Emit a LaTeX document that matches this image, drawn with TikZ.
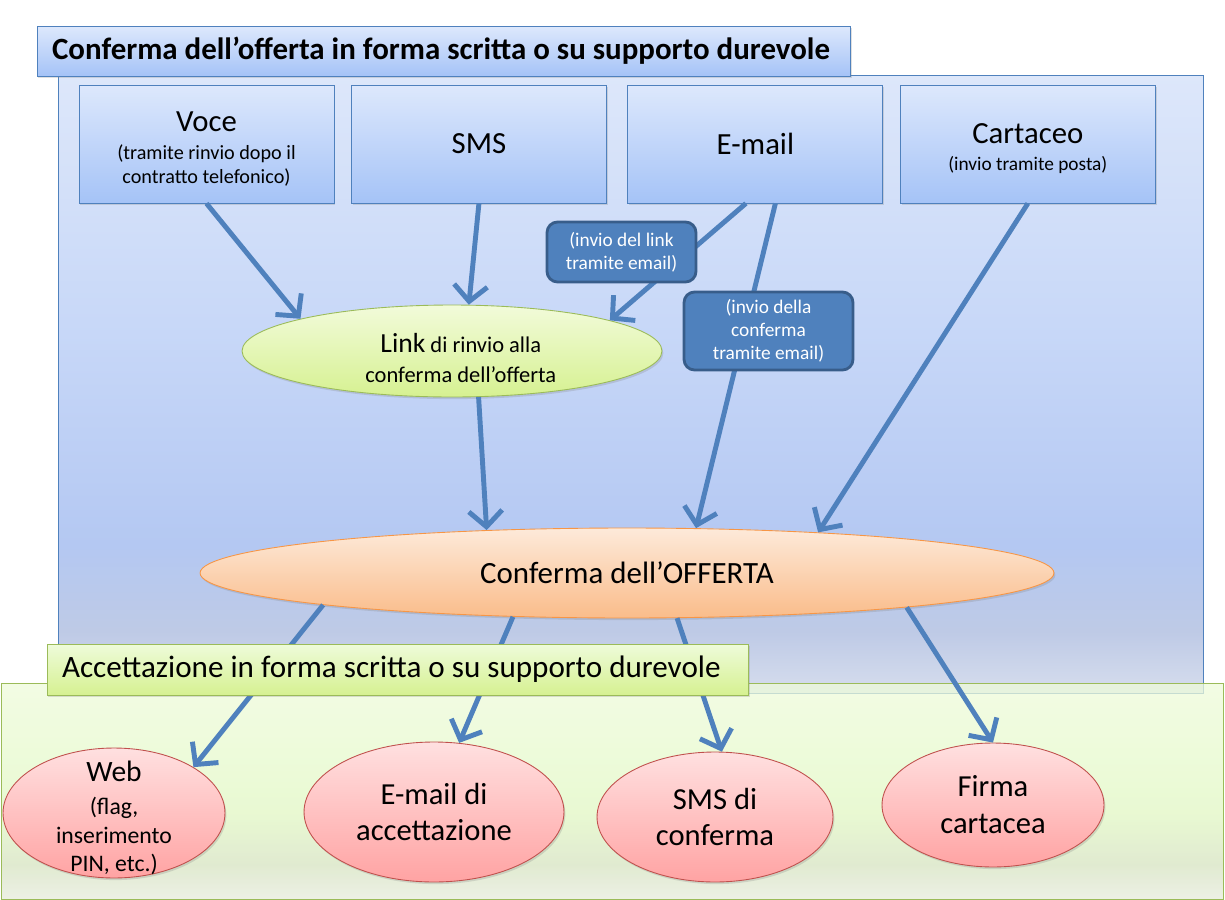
\documentclass[tikz,border=0pt]{standalone}
\usepackage{fontspec}
\setmainfont{Carlito}
\usetikzlibrary{shapes.geometric, arrows.meta, positioning, shadows}

\definecolor{accent}{RGB}{79,129,189}
\definecolor{accentdark}{RGB}{56,93,138}
\definecolor{boxtop}{RGB}{221,232,252}
\definecolor{boxbot}{RGB}{165,195,247}
\definecolor{offtop}{RGB}{221,231,250}
\definecolor{offmid}{RGB}{200,216,248}
\definecolor{offlow}{RGB}{180,200,242}
\definecolor{offgrey}{RGB}{190,202,230}
\definecolor{offbot}{RGB}{214,221,237}
\definecolor{acctop}{RGB}{238,251,218}
\definecolor{accmid}{RGB}{225,247,195}
\definecolor{acclow}{RGB}{214,227,192}
\definecolor{accbot}{RGB}{230,235,220}
\definecolor{greenline}{RGB}{155,187,89}
\definecolor{linktop}{RGB}{242,251,218}
\definecolor{linkbot}{RGB}{214,241,145}
\definecolor{conftop}{RGB}{253,234,218}
\definecolor{confbot}{RGB}{250,188,138}
\definecolor{confline}{RGB}{247,150,70}
\definecolor{pinktop}{RGB}{255,224,224}
\definecolor{pinkbot}{RGB}{255,163,163}
\definecolor{pinkline}{RGB}{192,80,77}

\pgfdeclareverticalshading{offershade}{100bp}{color(0bp)=(offbot); color(25bp)=(offbot); color(30bp)=(offgrey); color(37bp)=(offlow); color(55bp)=(offmid); color(75bp)=(offtop); color(100bp)=(offtop)}
\pgfdeclareverticalshading{acceptshade}{100bp}{color(0bp)=(accbot); color(25bp)=(accbot); color(33bp)=(acclow); color(45bp)=(accmid); color(75bp)=(acctop); color(100bp)=(acctop)}

\tikzstyle{softshadow} = [drop shadow={opacity=0.25, shadow xshift=0.8pt, shadow yshift=-1.2pt}]
\tikzstyle{offerpanel} = [rectangle, draw=accent, line width=0.5pt, shading=offershade]
\tikzstyle{acceptpanel} = [rectangle, draw=greenline, line width=0.5pt, shading=acceptshade, fill opacity=0.75]
\tikzstyle{titlebox} = [rectangle, draw=accent, line width=0.5pt, top color=boxtop, bottom color=boxbot, inner xsep=0.3cm, align=flush left, softshadow]
\tikzstyle{greenlabel} = [rectangle, draw=greenline, line width=0.5pt, top color=acctop, bottom color=linkbot, inner xsep=0.3cm, align=flush left, softshadow]
\tikzstyle{channel} = [rectangle, minimum width=5.1cm, minimum height=2.36cm, align=center, draw=accent, line width=0.5pt, top color=boxtop, bottom color=boxbot, font=\fontsize{17.5}{21}\selectfont, softshadow]
\tikzstyle{sendnote} = [rectangle, rounded corners=6pt, align=center, draw=accentdark, line width=1.6pt, fill=accent, text=white, font=\fontsize{11}{13}\selectfont]
\tikzstyle{linkoval} = [ellipse, inner sep=0pt, align=center, draw=greenline, line width=0.5pt, top color=linktop, bottom color=linkbot, font=\fontsize{12.8}{17.6}\selectfont, softshadow]
\tikzstyle{confoval} = [ellipse, inner sep=0pt, align=center, draw=confline, line width=0.5pt, top color=conftop, bottom color=confbot, font=\fontsize{17.6}{21}\selectfont, softshadow]
\tikzstyle{accept} = [ellipse, inner sep=0pt, align=center, draw=pinkline, line width=0.5pt, top color=pinktop, bottom color=pinkbot, font=\fontsize{17.4}{21}\selectfont, softshadow]
\tikzstyle{arrow} = [line width=2.8pt, draw=accent, -{Straight Barb[length=9pt,width=19pt]}]

\begin{document}
\begin{tikzpicture}[x=0.02cm, y=-0.02cm, node distance=5.45cm]
        \useasboundingbox (0,0) rectangle (1225,900);

        % Panels
        \node (offpanel) [offerpanel, minimum width=22.92cm, minimum height=12.36cm] at (631,384) {};
        \node (accpanel) [acceptpanel, minimum width=24.46cm, minimum height=4.32cm] at (612.5,791) {};
        \node (title) [titlebox, text width=15.68cm, minimum height=1cm, font=\fontsize{17.6}{20}\selectfont\bfseries] at (444,51) {\mbox{Conferma dell’offerta in forma scritta o su supporto durevole}};

        % Row 1
        \node (voce) [channel] at (206.5,144) {\raisebox{-2.8pt}[\height][\depth]{Voce}\\[-5pt]\raisebox{-2.8pt}[\height][\depth]{\fontsize{11.5}{13.7}\selectfont (tramite rinvio dopo il}\\[-7.3pt]\raisebox{-2.8pt}[\height][\depth]{\fontsize{11.5}{13.7}\selectfont contratto telefonico)}};
        \node (sms) [channel, right of=voce] {SMS};
        \node (email) [channel, right of=sms, xshift=0.08cm] {E-mail};
        \node (cartaceo) [channel, right of=email] {\raisebox{-2.8pt}[\height][\depth]{Cartaceo}\\[-5.5pt]\raisebox{-2.8pt}[\height][\depth]{\fontsize{11}{13}\selectfont (invio tramite posta)}};

        % Row 2
        \node (link) [linkoval, minimum width=8.4cm, minimum height=1.84cm] at (452,351) {\raisebox{-4pt}[\height][\depth]{\hspace*{10pt}{\fontsize{15.7}{17.6}\selectfont Link} di rinvio alla}\\\raisebox{-4pt}[\height][\depth]{\hspace*{10pt}conferma dell’offerta}};
        \node (conf) [confoval, minimum width=17.08cm, minimum height=1.8cm] at (627,573) {Conferma dell’OFFERTA};

        % Row 3
        \node (web) [accept, minimum width=4.44cm, minimum height=2.6cm] at (114,813) {};
        \node (webtext) [align=center, font=\fontsize{13.5}{16.2}\selectfont] at (114,818) {{\fontsize{16.8}{18}\selectfont Web}\\[2.6pt](flag,\\inserimento\\PIN, etc.)};
        \node (emailacc) [accept, minimum width=5.2cm, minimum height=2.8cm] at (434,812) {E-mail di\\accettazione};
        \node (smsconf) [accept, minimum width=4.72cm, minimum height=2.6cm] at (715,817) {SMS di\\conferma};
        \node (firma) [accept, minimum width=4.44cm, minimum height=2.48cm] at (993,805) {Firma\\cartacea};

        % Arrows
        \draw [arrow] (voce.south) -- (link.168);
        \draw [arrow] (sms.south) -- (link.70);
        \draw [arrow] ([xshift=-0.19cm]email.south) -- (link.11);
        \draw [arrow] ([xshift=0.4cm]email.south) -- (conf.33);
        \draw [arrow] (cartaceo.south) -- (conf.12);
        \draw [arrow] (link.300) -- (conf.163);
        \draw [arrow] (conf.186) -- (web.30);
        \draw [arrow] (conf.201) -- (emailacc.70);
        \draw [arrow] (conf.318) -- (smsconf.84);
        \draw [arrow] (conf.353) -- (firma.north);

        % Notes on the e-mail arrows
        \node (linknote) [sendnote, minimum width=2.98cm, minimum height=1.2cm] at (621.5,252) {(invio del link\\tramite email)};
        \node (confnote) [sendnote, minimum width=3.38cm, minimum height=1.56cm] at (768.5,331) {(invio della\\conferma\\tramite email)};

        \node (acclabel) [greenlabel, text width=13.44cm, minimum height=1.02cm, font=\fontsize{17.7}{20}\selectfont] at (398,669.5) {\mbox{Accettazione in forma scritta o su supporto durevole}};
    \end{tikzpicture}
\end{document}
